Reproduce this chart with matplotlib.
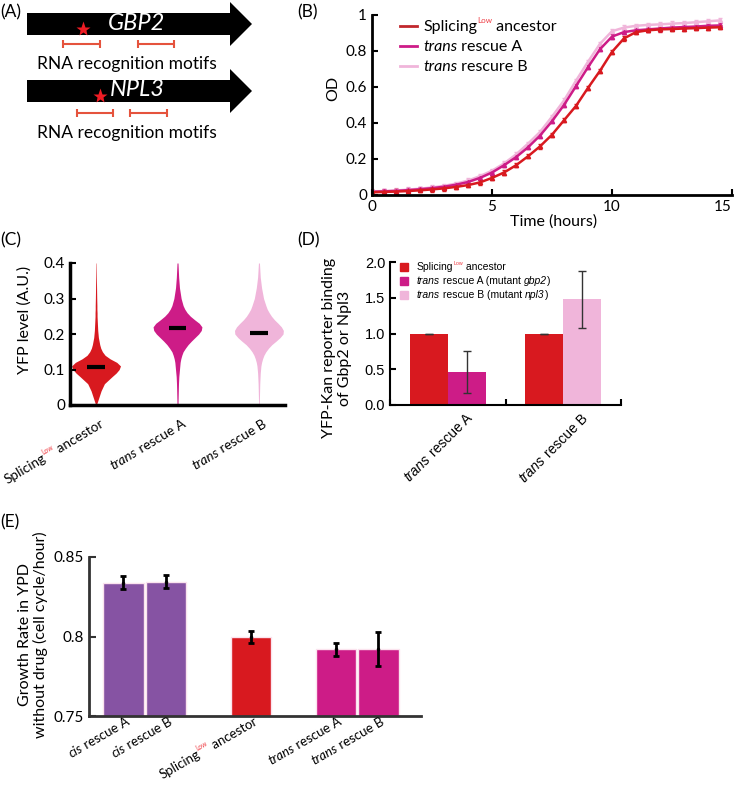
import numpy as np
import matplotlib
matplotlib.use('Agg')
import matplotlib.pyplot as plt
import matplotlib.patches as patches
import matplotlib.transforms as mtransforms
from matplotlib.lines import Line2D

FONT = 'Lato'
ARIAL = 'Liberation Sans'
plt.rcParams['font.family'] = [FONT, 'DejaVu Sans']

RED = '#d8191f'
MAGENTA = '#cd1c87'
PINK = '#f0b5da'
PURPLE = '#8653a3'
LOW_RED = '#ee3b42'
MOTIF = '#e5533d'

# ---------------- data ----------------
# (A) gene schematics (positions along the drawn gene, schematic units)
genes = ['GBP2', 'NPL3']
star_pos = [83, 100]
motifs = [[(63, 100), (138, 174)], [(77, 113), (130, 167)]]

# (B) growth curves, OD vs time
time_h = [0, 0.5, 1, 1.5, 2, 2.5, 3, 3.5, 4, 4.5, 5, 5.5, 6, 6.5, 7, 7.5, 8, 8.5, 9, 9.5,
          10, 10.5, 11, 11.5, 12, 12.5, 13, 13.5, 14, 14.5]
od_ancestor = [0.015, 0.017, 0.019, 0.022, 0.026, 0.031, 0.037, 0.045, 0.055, 0.070,
               0.095, 0.125, 0.165, 0.215, 0.270, 0.335, 0.415, 0.495, 0.595, 0.690,
               0.795, 0.870, 0.905, 0.915, 0.920, 0.922, 0.925, 0.927, 0.930, 0.932]
od_trans_a = [0.018, 0.020, 0.023, 0.027, 0.032, 0.038, 0.046, 0.057, 0.072, 0.095,
              0.125, 0.165, 0.210, 0.265, 0.330, 0.410, 0.500, 0.605, 0.710, 0.810,
              0.880, 0.905, 0.915, 0.920, 0.925, 0.930, 0.933, 0.936, 0.940, 0.942]
od_trans_b = [0.020, 0.022, 0.025, 0.030, 0.035, 0.042, 0.051, 0.063, 0.080, 0.105,
              0.135, 0.175, 0.225, 0.285, 0.350, 0.435, 0.525, 0.635, 0.740, 0.840,
              0.910, 0.930, 0.940, 0.945, 0.948, 0.952, 0.955, 0.960, 0.965, 0.970]
od_err = 0.012

# (C) YFP level distributions: relative density at each YFP level
yfp_levels = [0, 0.02, 0.04, 0.06, 0.08, 0.09, 0.10, 0.11, 0.12, 0.13, 0.14, 0.15, 0.16,
              0.17, 0.18, 0.19, 0.20, 0.21, 0.22, 0.23, 0.24, 0.25, 0.26, 0.27, 0.28,
              0.30, 0.33, 0.36, 0.40]
dens_ancestor = [1, 8, 15, 25, 48, 60, 69, 73, 62, 42, 27, 19, 14, 11, 9, 7, 6, 5, 4.5, 4,
                 3.5, 3, 3, 2.5, 2.5, 2, 1.5, 1, 0.5]
dens_trans_a = [1.5, 2, 2.5, 3, 4, 5, 6, 7, 8, 10, 13, 17, 24, 32, 42, 53, 64, 72, 74, 66,
                52, 39, 29, 22, 17, 11, 6, 3.5, 1.5]
dens_trans_b = [1, 1.5, 2, 2.5, 3.5, 4, 5, 6, 8, 11, 15, 21, 29, 39, 52, 64, 73, 74, 68, 58,
                47, 38, 31, 25, 21, 14, 8, 4, 1.5]
yfp_median = [0.107, 0.218, 0.204]

# (D) reporter binding
d_ancestor = [1.0, 1.0]
d_ancestor_err = [0.0, 0.0]
d_rescue = [0.46, 1.48]
d_rescue_err = [0.29, 0.40]

# (E) growth rate without drug
e_pos = [1, 2, 4, 6, 7]
e_rate = [0.8339, 0.8345, 0.7998, 0.7919, 0.7921]
e_err = [0.0040, 0.0039, 0.0037, 0.0042, 0.0107]
e_colors = [PURPLE, PURPLE, RED, MAGENTA, MAGENTA]

# labels as styled pieces
LBL_ANCESTOR = [dict(s='Splicing'), dict(s='Low', scale=0.5, rise=0.5, color=LOW_RED),
                dict(s=' ancestor')]
LBL_TRANS_A = [dict(s='trans', style='italic'), dict(s=' rescue A')]
LBL_TRANS_B = [dict(s='trans', style='italic'), dict(s=' rescue B')]
LBL_TRANS_B_TYPO = [dict(s='trans', style='italic'), dict(s=' rescure B')]
LBL_CIS_A = [dict(s='cis', style='italic'), dict(s=' rescue A')]
LBL_CIS_B = [dict(s='cis', style='italic'), dict(s=' rescue B')]
LBL_D_A = [dict(s='trans', style='italic'), dict(s=' rescue A (mutant '),
           dict(s='gbp2', style='italic'), dict(s=')')]
LBL_D_B = [dict(s='trans', style='italic'), dict(s=' rescue B (mutant '),
           dict(s='npl3', style='italic'), dict(s=')')]

W, H = 739, 785
fig = plt.figure(figsize=(W / 100, H / 100), dpi=100)
renderer = fig.canvas.get_renderer()


def px_axes(x0, y0, x1, y1):
    return fig.add_axes([x0 / W, 1 - y1 / H, (x1 - x0) / W, (y1 - y0) / H])


def text_width(s, size, style, family):
    t = fig.text(0, 0, s, fontsize=size, fontstyle=style, family=family)
    w = t.get_window_extent(renderer).width
    t.remove()
    return w


def rich_text(ax, x, y, pieces, transform, rotation=0, dx=0, dy=0, align='left',
              size=10, family=FONT):
    """Draw text made of differently styled pieces along one (rotated) baseline."""
    sizes, widths = [], []
    for p in pieces:
        sz = size * p.get('scale', 1)
        st = p.get('style', 'normal')
        w = text_width('|' + p['s'] + '|', sz, st, family) - text_width('||', sz, st, family)
        sizes.append(sz)
        widths.append(w)
    pos = {'left': 0, 'center': -sum(widths) / 2, 'right': -sum(widths)}[align]
    a = np.deg2rad(rotation)
    c, s = np.cos(a), np.sin(a)
    for p, sz, w in zip(pieces, sizes, widths):
        rise = p.get('rise', 0) * size * fig.dpi / 72
        ox = dx + pos * c - rise * s
        oy = dy + pos * s + rise * c
        tr = transform + mtransforms.ScaledTranslation(ox / fig.dpi, oy / fig.dpi,
                                                       fig.dpi_scale_trans)
        ax.text(x, y, p['s'], transform=tr, rotation=rotation, rotation_mode='anchor',
                ha='left', va='baseline', fontsize=sz, fontstyle=p.get('style', 'normal'),
                color=p.get('color', 'black'), family=family, clip_on=False)
        pos += w


def style_axes(ax, lw=2, color='black', length=4):
    for side in ['top', 'right']:
        ax.spines[side].set_visible(False)
    for side in ['left', 'bottom']:
        ax.spines[side].set_linewidth(lw)
        ax.spines[side].set_color(color)
    ax.tick_params(direction='in', length=length, width=1.5, color=color, labelsize=11)


# panel letters
for lbl, x, y in [('(A)', 0, 12), ('(B)', 297, 12), ('(C)', 0, 240), ('(D)', 297, 240),
                  ('(E)', 0, 522)]:
    fig.text(x / W, 1 - y / H, lbl, fontsize=12.5, va='center', ha='left')

# ---------------- (A) ----------------
axA = px_axes(0, 0, 270, 150)
axA.set_xlim(0, 270)
axA.set_ylim(150, 0)
axA.axis('off')
gene_y = [24, 91]
x0, xh, xt, bh, hh = 27, 230, 252, 11, 22
for i, g in enumerate(genes):
    yc = gene_y[i]
    poly = [(x0, yc - bh), (xh, yc - bh), (xh, yc - hh), (xt, yc), (xh, yc + hh),
            (xh, yc + bh), (x0, yc + bh)]
    axA.add_patch(patches.Polygon(poly, closed=True, color='black', lw=0))
    axA.text(137, yc - 1, g, color='white', fontsize=17, fontstyle='italic',
             ha='center', va='center')
    axA.plot(star_pos[i], yc + 5, marker='*', color='#ee1c24', ms=11, mec='none')
    my = yc + 20 if i == 0 else yc + 22
    for a, b in motifs[i]:
        axA.hlines(my, a, b, color=MOTIF, lw=1.5)
        axA.vlines([a, b], my - 4, my + 4, color=MOTIF, lw=1.5)
    axA.text(127, my + 20, 'RNA recognition motifs', fontsize=12.5, ha='center',
             va='center')

# ---------------- (B) ----------------
axB = px_axes(372, 15, 732, 195)
style_axes(axB)
series_b = [(od_trans_b, PINK), (od_trans_a, MAGENTA), (od_ancestor, RED)]
for vals, col in series_b:
    axB.errorbar(time_h, vals, yerr=od_err, color=col, lw=1.8, marker='^', ms=3,
                 capsize=1.5, elinewidth=1)
axB.set_xlim(0, 15)
axB.set_ylim(0, 1)
axB.set_xticks([0, 5, 10, 15])
axB.set_xticklabels(['0', '5', '10', '15'])
axB.get_xticklabels()[-1].set_ha('right')
axB.set_yticks([0, 0.2, 0.4, 0.6, 0.8, 1])
axB.set_yticklabels(['0', '0.2', '0.4', '0.6', '0.8', '1'])
fig.text(554 / W, 1 - 222 / H, 'Time (hours)', fontsize=11.5, ha='center', va='center')
fig.text(333 / W, 1 - 88 / H, 'OD', fontsize=11.5, ha='center', va='center',
         rotation=90)
leg_b = [(LBL_ANCESTOR, '#c1272d'), (LBL_TRANS_A, MAGENTA), (LBL_TRANS_B_TYPO, PINK)]
for k, (pieces, col) in enumerate(leg_b):
    ya = 1 - (26 + 20 * k - 15) / 180
    axB.add_line(Line2D([0.078, 0.125], [ya, ya], transform=axB.transAxes, color=col,
                        lw=2))
    rich_text(axB, 0.142, ya, pieces, axB.transAxes, dy=-5, size=11.5)

# ---------------- (C) ----------------
axC = px_axes(70, 263, 285, 405)
style_axes(axC, lw=2.5)
half_w = 0.30
for k, (dens, col) in enumerate([(dens_ancestor, RED), (dens_trans_a, MAGENTA),
                                 (dens_trans_b, PINK)]):
    pos = k + 1
    w = np.array(dens) / max(dens) * half_w
    axC.fill_betweenx(yfp_levels, pos - w, pos + w, color=col, lw=0)
    axC.hlines(yfp_median[k], pos - 0.11, pos + 0.11, color='black', lw=3)
axC.set_xlim(0.68, 3.32)
axC.set_ylim(0, 0.4)
axC.set_xticks([])
axC.set_yticks([0, 0.1, 0.2, 0.3, 0.4])
axC.set_yticklabels(['0', '0.1', '0.2', '0.3', '0.4'])
fig.text(25 / W, 1 - 320 / H, 'YFP level (A.U.)', fontsize=11.5, ha='center',
         va='center', rotation=90)
for k, pieces in enumerate([LBL_ANCESTOR, LBL_TRANS_A, LBL_TRANS_B]):
    rich_text(axC, k + 1, 0, pieces, axC.get_xaxis_transform(), rotation=31,
              dx=9, dy=-21, align='right', size=9.8)

# ---------------- (D) ----------------
axD = px_axes(390, 262, 621, 405)
style_axes(axD, lw=1.5)
groups = np.arange(len(d_rescue))
bw = 0.33
axD.bar(groups, d_ancestor, width=-bw, align='edge', color=RED, lw=0)
axD.bar(groups, d_rescue, width=bw, align='edge', color=[MAGENTA, PINK], lw=0)
axD.errorbar(groups - bw / 2, d_ancestor, yerr=d_ancestor_err, fmt='none',
             ecolor='#333333', elinewidth=1, capsize=3)
axD.errorbar(groups + bw / 2, d_rescue, yerr=d_rescue_err, fmt='none',
             ecolor='#333333', elinewidth=1, capsize=3)
axD.set_xlim(-0.5, 1.5)
axD.set_ylim(0, 2.0)
axD.set_xticks([-0.5, 0.5, 1.5])
axD.set_xticklabels([])
axD.set_yticks([0, 0.5, 1.0, 1.5, 2.0])
axD.set_yticklabels(['0.0', '0.5', '1.0', '1.5', '2.0'], family=ARIAL, fontsize=10.5)
for k, pieces in enumerate([LBL_TRANS_A, LBL_TRANS_B]):
    rich_text(axD, groups[k], 0, pieces, axD.get_xaxis_transform(), rotation=45,
              dx=25, dy=-14, align='right', size=10, family=ARIAL)
fig.text(337 / W, 1 - 348 / H, 'YFP-Kan reporter binding\nof Gbp2 or Npl3',
         fontsize=11.5, ha='center', va='center', rotation=90, linespacing=1.1)
for k, (pieces, col) in enumerate([(LBL_ANCESTOR, RED), (LBL_D_A, MAGENTA),
                                   (LBL_D_B, PINK)]):
    ya = 1 - (267 + 14 * k - 262) / 143
    axD.add_line(Line2D([0.06], [ya], transform=axD.transAxes, marker='s', ms=5.5,
                        color=col, lw=0, clip_on=False))
    rich_text(axD, 0.117, ya, pieces, axD.transAxes, dy=-3.5, size=7.5, family=ARIAL)

# ---------------- (E) ----------------
axE = px_axes(89, 557, 421, 716)
style_axes(axE, lw=2, color='#333333', length=5)
axE.bar(e_pos, e_rate, width=0.96, color=e_colors, edgecolor='#fbe3ee', lw=1)
axE.errorbar(e_pos, e_rate, yerr=e_err, fmt='.', color='black', ms=3,
             elinewidth=2, capsize=2.5, capthick=2)
axE.set_xlim(0.19, 8.0)
axE.set_ylim(0.75, 0.85)
axE.set_xticks([])
axE.set_yticks([0.75, 0.8, 0.85])
axE.set_yticklabels(['0.75', '0.8', '0.85'])
fig.text(33 / W, 1 - 635 / H, 'Growth Rate in YPD\nwithout drug (cell cycle/hour)',
         fontsize=11.5, ha='center', va='center', rotation=90, linespacing=1.1)
for k, pieces in enumerate([LBL_CIS_A, LBL_CIS_B, LBL_ANCESTOR, LBL_TRANS_A,
                            LBL_TRANS_B]):
    rich_text(axE, e_pos[k], 0, pieces, axE.get_xaxis_transform(), rotation=30,
              dx=7, dy=-8, align='right', size=9.5)

fig.savefig('out.png', dpi=100)
